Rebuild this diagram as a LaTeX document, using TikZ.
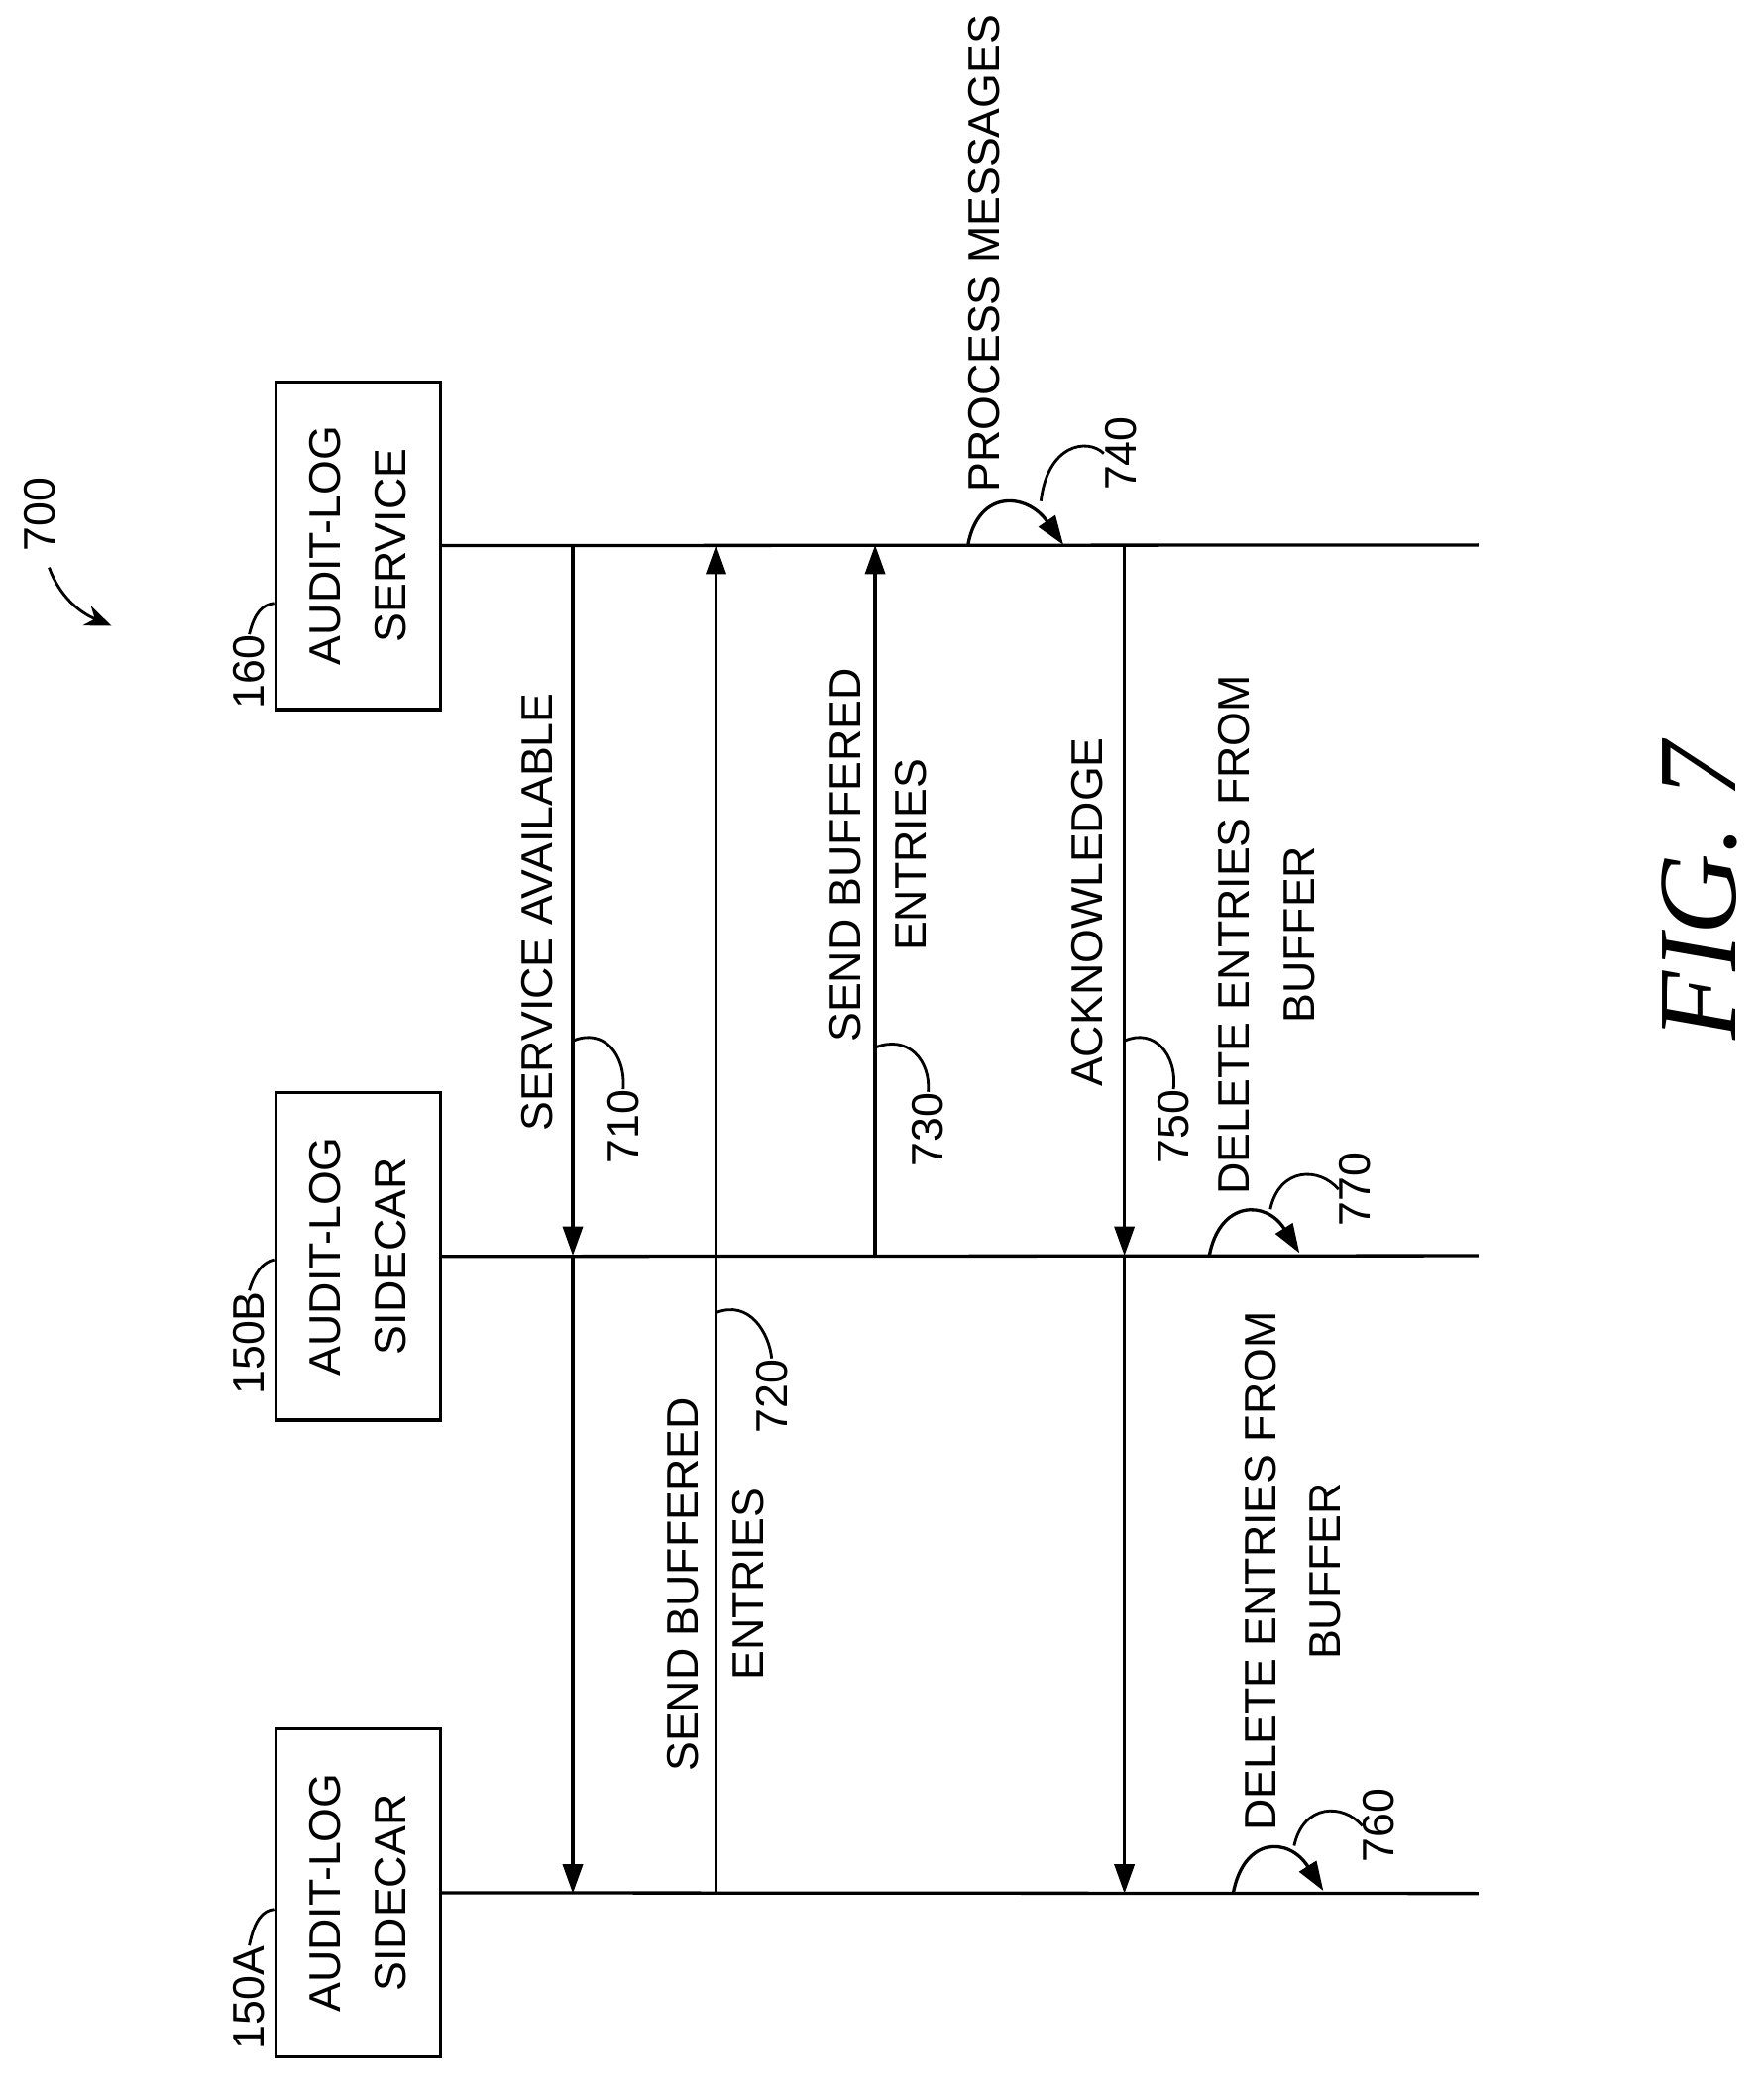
\documentclass[tikz,border=0pt]{standalone}
\usepackage{fontspec}
\setmainfont{Liberation Sans}
\newfontfamily\figfont{Liberation Serif}
\usetikzlibrary{arrows.meta}
\begin{document}
\begin{tikzpicture}[x=0.01cm,y=-0.01cm,
  lbl/.style={rotate=90,align=center,font=\fontsize{9.5}{14}\selectfont,inner sep=0pt},
  box/.style={draw,line width=0.7pt,minimum width=1.24cm,minimum height=2.47cm,inner sep=0pt},
  line/.style={line width=0.7pt},
  arr/.style={line width=0.7pt,-{Triangle[length=0.22cm,width=0.15cm]}},
  lead/.style={line width=0.6pt}]
\useasboundingbox (0,0) rectangle (1330,1580);
% boxes
\node[box] (svc) at (270,411.5) {};
\node[lbl] at (svc) {AUDIT-LOG\\SERVICE};
\node[box] (scb) at (270,947.5) {};
\node[lbl] at (scb) {AUDIT-LOG\\SIDECAR};
\node[box] (sca) at (270,1427.5) {};
\node[lbl] at (sca) {AUDIT-LOG\\SIDECAR};
% lifelines
\coordinate (svcE) at (1115,411);
\coordinate (scbE) at (1115,947);
\coordinate (scaE) at (1115,1428);
\draw[line] (svc.east) -- (svcE);
\draw[line] (scb.east) -- (scbE);
\draw[line] (sca.east) -- (scaE);
% ref labels
\node[lbl] (n160) at (188,507) {160};
\draw[lead] (n160.east) .. controls (192,462) and (198,456) .. (svc.west |- 0,455);
\node[lbl] (n150b) at (188,1013) {150B};
\draw[lead] (n150b.east) .. controls (192,960) and (198,952) .. (scb.west |- 0,950);
\node[lbl] (n150a) at (188,1507) {150A};
\draw[lead] (n150a.east) .. controls (192,1448) and (198,1441) .. (sca.west |- 0,1440);
\node[lbl] (n700) at (30,388) {700};
\coordinate (a700) at (84,472);
\draw[lead,-{Stealth[length=0.2cm,width=0.16cm]}] (37,428) .. controls (45,450) and (60,462) .. (a700);
% message 710
\coordinate (p1a) at (432,411); \coordinate (p1b) at (432,947); \coordinate (p1c) at (432,1428);
\draw[arr] (p1a) -- (p1b);
\draw[arr] (p1b) -- (p1c);
\node[lbl] at (405,688) {SERVICE AVAILABLE};
\coordinate (l710) at (432,785);
\node[lbl] (n710) at (470,850) {710};
\draw[lead] (l710) .. controls (455,775) and (472,795) .. (n710.east);
% message 720
\coordinate (p2a) at (540,1428); \coordinate (p2b) at (540,411);
\draw[arr] (p2a) -- (p2b);
\node[lbl] at (540,1195) {SEND BUFFERED\\ENTRIES};
\coordinate (l720) at (540,990);
\node[lbl] (n720) at (582,1053) {720};
\draw[lead] (l720) .. controls (565,980) and (580,1005) .. (n720.east);
% message 730
\coordinate (p3a) at (660,947); \coordinate (p3b) at (660,411);
\draw[arr] (p3a) -- (p3b);
\node[lbl] at (662,645) {SEND BUFFERED\\ENTRIES};
\coordinate (l730) at (660,790);
\node[lbl] (n730) at (700,852) {730};
\draw[lead] (l730) .. controls (685,780) and (702,800) .. (n730.east);
% 740
\node[lbl,anchor=west] (n740t) at (742,372) {PROCESS MESSAGES};
\coordinate (s740) at (730,411); \coordinate (e740) at (802,411);
\draw[arr] (s740) .. controls (738,368) and (775,372) .. (e740);
\node[lbl] (n740) at (845,342) {740};
\draw[lead] (n740.north) .. controls (820,330) and (790,335) .. (785,378);
% message 750
\coordinate (p4a) at (848,411); \coordinate (p4b) at (848,947); \coordinate (p4c) at (848,1428);
\draw[arr] (p4a) -- (p4b);
\draw[arr] (p4b) -- (p4c);
\node[lbl] at (820,688) {ACKNOWLEDGE};
\coordinate (l750) at (848,785);
\node[lbl] (n750) at (885,850) {750};
\draw[lead] (l750) .. controls (870,775) and (888,795) .. (n750.east);
% 770
\node[lbl] at (955,705) {DELETE ENTRIES FROM\\BUFFER};
\coordinate (s770) at (912,947); \coordinate (e770) at (980,945);
\draw[arr] (s770) .. controls (920,905) and (955,905) .. (e770);
\node[lbl] (n770) at (1022,897) {770};
\draw[lead] (n770.north) .. controls (995,880) and (965,880) .. (958,912);
% 760
\node[lbl] at (975,1185) {DELETE ENTRIES FROM\\BUFFER};
\coordinate (s760) at (930,1428); \coordinate (e760) at (998,1426);
\draw[arr] (s760) .. controls (938,1385) and (972,1385) .. (e760);
\node[lbl] (n760) at (1040,1377) {760};
\draw[lead] (n760.north) .. controls (1013,1360) and (983,1360) .. (976,1392);
% fig
\node[rotate=90,font=\figfont\itshape\fontsize{24}{28}\selectfont] (fig) at (1282,672) {FIG. 7};
\end{tikzpicture}
\end{document}
